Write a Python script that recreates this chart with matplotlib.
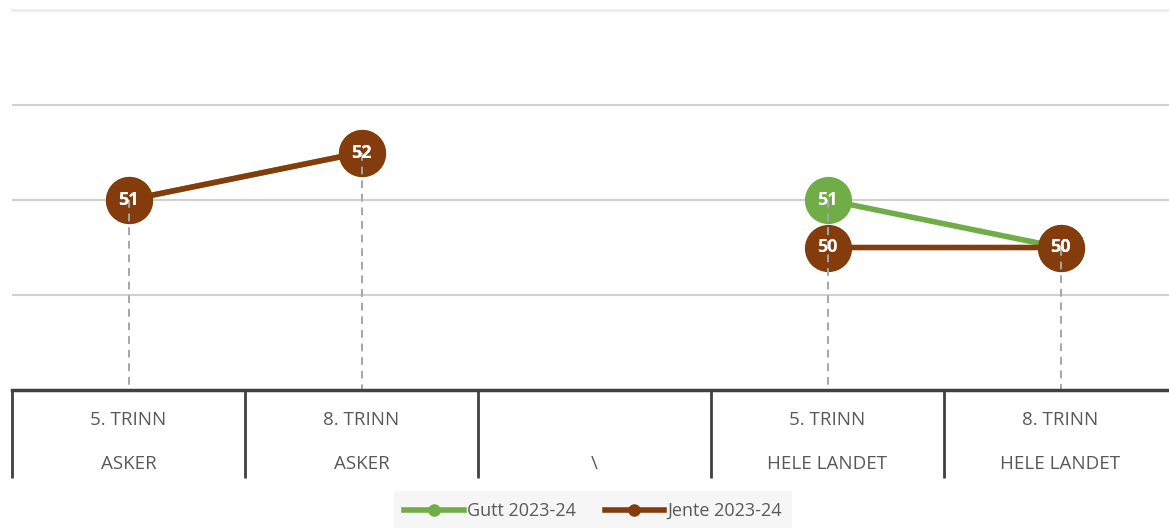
import numpy as np
import matplotlib
matplotlib.use("Agg")
import matplotlib.pyplot as plt
from matplotlib.lines import Line2D

# data
cat_top = ["5. TRINN", "8. TRINN", "", "5. TRINN", "8. TRINN"]
cat_bottom = ["ASKER", "ASKER", "\\", "HELE LANDET", "HELE LANDET"]
gutt = [51, 52, np.nan, 51, 50]
jente = [51, 52, np.nan, 50, 50]
series_names = ["Gutt 2023-24", "Jente 2023-24"]

green = "#70AD47"
brown = "#843C0C"

plt.rcParams['font.family'] = ['Open Sans', 'DejaVu Sans']

W, H = 1169, 528
fig = plt.figure(figsize=(W / 100, H / 100), dpi=100)
# plot area in pixels: left 12, right 1177, top 10, bottom 390
ax = fig.add_axes([12 / W, 1 - 390 / H, 1165 / W, 380 / H])

x = np.arange(len(cat_top))
ymin, ymax = 47, 55
ax.set_xlim(-0.5, len(cat_top) - 0.5)
ax.set_ylim(ymin, ymax)

# gridlines
for g in [49, 51, 53]:
    ax.axhline(g, color="#D0D0D0", lw=1.5, zorder=0)
ax.axhline(55, color="#EBEBEB", lw=2, zorder=0, clip_on=False)

for s in ax.spines.values():
    s.set_visible(False)
ax.set_xticks([])
ax.set_yticks([])

# lines with markers
ax.plot(x, gutt, color=green, lw=4, marker="o", ms=33, zorder=3)
ax.plot(x, jente, color=brown, lw=4, marker="o", ms=33, zorder=4)

# drop lines (drawn over markers like excel)
for i in range(len(x)):
    vals = [v for v in (gutt[i], jente[i]) if not np.isnan(v)]
    if not vals:
        continue
    ax.plot([x[i], x[i]], [max(vals), ymin], color="#A6A6A6", lw=1.4,
            ls=(0, (4, 3)), zorder=5, clip_on=False)

# data labels
for vals, col in [(gutt, green), (jente, brown)]:
    for i, v in enumerate(vals):
        if np.isnan(v):
            continue
        ax.text(x[i], v, "%d" % v, color="white", fontsize=13, fontweight="bold",
                ha="center", va="center", zorder=6)

# category table under the axis
tr = ax.get_xaxis_transform()
ax.plot([-0.5, len(cat_top) - 0.5], [0, 0], color="#404040", lw=2.5,
        transform=tr, clip_on=False, zorder=7)
for b in np.arange(-0.5, len(cat_top) - 0.5, 1.0):
    ax.plot([b, b], [0, -88 / 380], color="#404040", lw=2,
            transform=tr, clip_on=False, solid_capstyle="butt")
for i in range(len(x)):
    ax.text(x[i], -30 / 380, cat_top[i], transform=tr, ha="center", va="center",
            fontsize=13.5, color="#595959")
    ax.text(x[i], -74 / 380, cat_bottom[i], transform=tr, ha="center", va="center",
            fontsize=13.5, color="#595959")

handles = [Line2D([], [], color=green, lw=4, marker="o", ms=8),
           Line2D([], [], color=brown, lw=4, marker="o", ms=8)]
leg = fig.legend(handles, series_names, loc="center", bbox_to_anchor=(593 / W, 1 - 511 / H),
                 ncol=2, frameon=True, fancybox=False, facecolor="#F4F4F4", edgecolor="none",
                 fontsize=13, handlelength=3.3, handletextpad=0.15, columnspacing=1.6,
                 borderpad=0.6, borderaxespad=0)
for t in leg.get_texts():
    t.set_color("#595959")

fig.savefig("out.png", dpi=100)
